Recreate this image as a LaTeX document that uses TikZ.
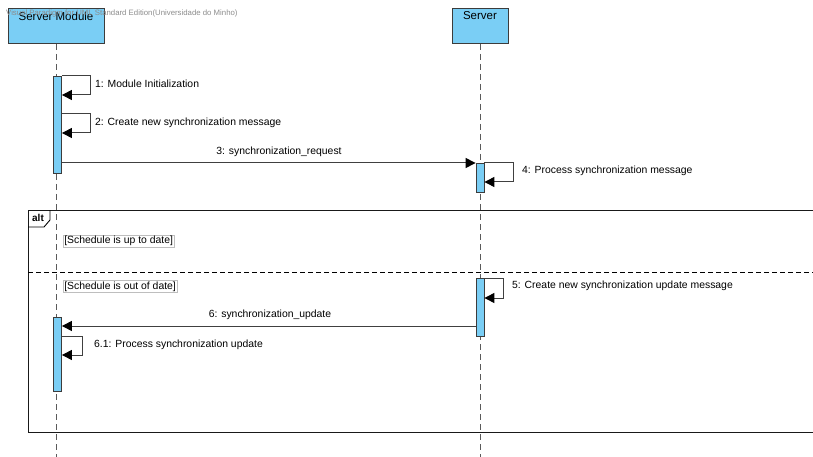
\documentclass[tikz,border=0pt]{standalone}
\usepackage{fontspec}
\setmainfont{Liberation Sans}
\usetikzlibrary{arrows.meta}
\definecolor{headfill}{RGB}{122,206,245}
\definecolor{headline}{RGB}{60,60,60}
\definecolor{lifegrey}{RGB}{90,90,90}
\definecolor{guardline}{RGB}{190,190,190}
\tikzset{
  head/.style={draw=headline, fill=headfill, line width=1pt, minimum width=#1, minimum height=35pt, inner sep=0pt, anchor=north},
  headtext/.style={font=\fontsize{11.5}{14}\selectfont, anchor=north, inner sep=0pt},
  lifeline/.style={draw=lifegrey, line width=0.8pt, dash pattern=on 6pt off 4pt},
  actbar/.style={draw=headline, fill=headfill, line width=0.8pt, minimum width=8pt, minimum height=#1, inner sep=0pt, anchor=north},
  msg/.style={draw=black!75, line width=1pt, -{Triangle[length=10pt,width=10pt,color=black,fill=black]}},
  lbl/.style={font=\fontsize{10.4}{12}\selectfont, inner sep=0pt, anchor=west},
  clbl/.style={font=\fontsize{10.4}{12}\selectfont, inner sep=0pt},
  guard/.style={draw=guardline, line width=0.6pt, font=\fontsize{10.4}{12}\selectfont, inner sep=1pt, anchor=west},
  frameline/.style={draw=black!90, line width=1pt}
}
\begin{document}
\begin{tikzpicture}[x=1pt,y=-1pt]
\useasboundingbox (0,0) rectangle (813,457);

% lifeline heads
\node[head=96pt] (smod) at (56,8) {};
\node[headtext] (smodt) at (56,11.5) {Server Module};
\node[head=56pt] (srv) at (480,8) {};
\node[headtext] (srvt) at (480,11.5) {Server};
\coordinate (smodend) at (56,457);
\coordinate (srvend) at (480,457);

% lifelines
\draw[lifeline] (smod.south) -- (smodend);
\draw[lifeline] (srv.south) -- (srvend);

% watermark
\node[font=\fontsize{7.8}{9}\selectfont, text=black!45, anchor=west, inner sep=0pt] (wm) at (6,13.5) {Visual Paradigm for UML Standard Edition(Universidade do Minho)};

% activation bars
\node[actbar=97pt] (a1) at (57.5,76) {};
\node[actbar=29pt] (a2) at (480,163) {};
\node[actbar=58pt] (a3) at (480,278) {};
\node[actbar=74pt] (a4) at (57.5,317) {};

% self message corner points
\coordinate (s1a) at (90,76);  \coordinate (s1b) at (90,95);
\coordinate (s2a) at (90,114); \coordinate (s2b) at (90,133);
\coordinate (s4a) at (513,163); \coordinate (s4b) at (513,182);
\coordinate (s5a) at (503,278); \coordinate (s5b) at (503,298);
\coordinate (s6a) at (82,336); \coordinate (s6b) at (82,355);

% 1 and 2: self messages on the module
\draw[msg] (a1.east |- s1a) -- (s1a) -- (s1b) -- (a1.east |- s1b);
\node[lbl] (l1) at (95,84) {1: Module Initialization};
\draw[msg] (a1.east |- s2a) -- (s2a) -- (s2b) -- (a1.east |- s2b);
\node[lbl] (l2) at (95,123) {2: Create new synchronization message};

% 3: request to the server
\draw[msg] (a1.east |- a2.north) -- (a2.north west);
\node[clbl] (l3) at (279,152) {3: synchronization\_request};

% 4: self message on the server
\draw[msg] (a2.north east) -- (s4a) -- (s4b) -- (a2.east |- s4b);
\node[lbl] (l4) at (522,171) {4: Process synchronization message};

% alt combined fragment
\coordinate (fnw) at (28,210);
\coordinate (fne) at (813,210);
\coordinate (fsw) at (28,432);
\coordinate (fse) at (813,432);
\draw[frameline] (fne) -- (fnw) -- (fsw) -- (fse);
\draw[line width=0.9pt] (28,227) -- (44,227) -- (50,220) -- (50,210);
\node[font=\bfseries\fontsize{10}{12}\selectfont, inner sep=0pt] (alt) at (38,218) {alt};
\coordinate (dl) at (28,272);
\coordinate (dr) at (813,272);
\draw[line width=0.9pt, dash pattern=on 5pt off 3pt] (dl) -- (dr);
\node[guard] (g1) at (63,241) {[Schedule is up to date]};
\node[guard] (g2) at (63,286.5) {[Schedule is out of date]};

% 5: self message on the server
\draw[msg] (a3.north east) -- (s5a) -- (s5b) -- (a3.east |- s5b);
\node[lbl] (l5) at (512,286) {5: Create new synchronization update message};

% 6: update back to the module
\coordinate (m6) at (0,326);
\draw[msg] (a3.west |- m6) -- (a4.east |- m6);
\node[clbl] (l6) at (270,315) {6: synchronization\_update};

% 6.1: self message on the module
\draw[msg] (a4.east |- s6a) -- (s6a) -- (s6b) -- (a4.east |- s6b);
\node[lbl] (l61) at (94,345) {6.1: Process synchronization update};
\end{tikzpicture}
\end{document}
